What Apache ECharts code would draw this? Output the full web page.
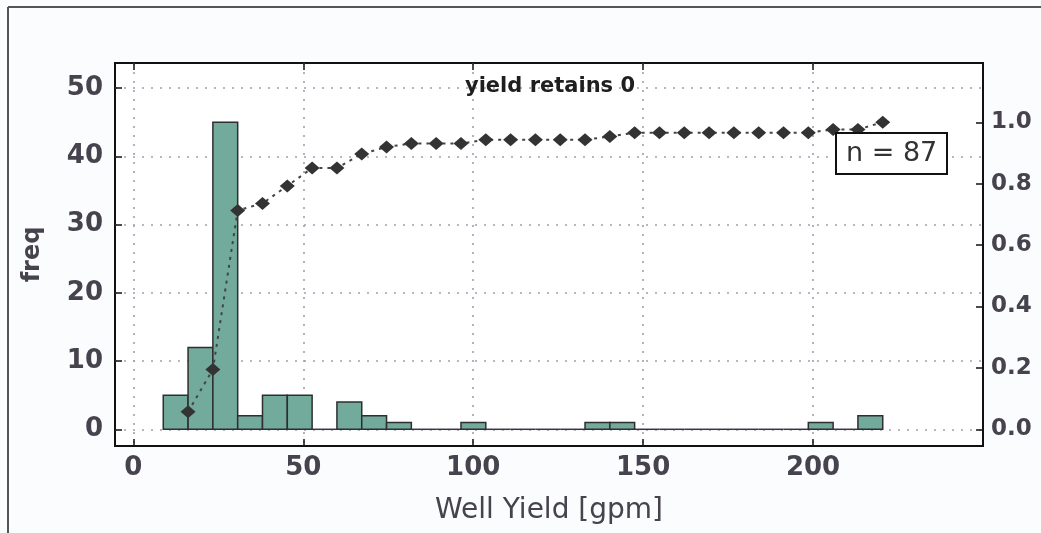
<!DOCTYPE html>
<html><head><meta charset="utf-8">
<script src="https://cdn.jsdelivr.net/npm/echarts@6/dist/echarts.min.js"></script>
<style>html,body{margin:0;padding:0;background:#fbfcfd}#c{width:1041px;height:533px}</style>
</head><body><div id="c"></div>
<script>
// ---- data ----
const binEdges = [8.8, 16.1, 23.4, 30.7, 38.0, 45.3, 52.6, 59.9, 67.2, 74.5, 81.8, 89.1, 96.4, 103.7, 111.0,
  118.3, 125.6, 132.9, 140.2, 147.5, 154.8, 162.1, 169.4, 176.7, 184.0, 191.3, 198.6, 205.9, 213.2, 220.5];
const counts = [5, 12, 45, 2, 5, 5, 0, 4, 2, 1, 0, 0, 1, 0, 0, 0, 0, 1, 1, 0, 0, 0, 0, 0, 0, 0, 1, 0, 2];
const cumFraction = [0.057, 0.195, 0.713, 0.736, 0.793, 0.851, 0.851, 0.897, 0.920, 0.931, 0.931, 0.931, 0.943,
  0.943, 0.943, 0.943, 0.943, 0.954, 0.966, 0.966, 0.966, 0.966, 0.966, 0.966, 0.966, 0.966, 0.977, 0.977, 1.0];
const xTicks = [0, 50, 100, 150, 200];
const freqTicks = [0, 10, 20, 30, 40, 50];
const fracTicks = [0, 0.2, 0.4, 0.6, 0.8, 1.0];
const titleText = 'yield retains 0';
const nText = 'n = 87';
const xName = 'Well Yield [gpm]';
const yName = 'freq';

// ---- build ----
const barData = counts.map((c, i) => [binEdges[i], binEdges[i + 1], c]);
const cumData = cumFraction.map((v, i) => [binEdges[i + 1], v]);

const txt = '#46424e';
const font = 'DejaVu Sans';
const gridLine = { show: true, lineStyle: { type: [2, 7], color: '#a49db0', width: 1.6 } };
const tickStyle = { color: '#111', width: 1.5 };

const chart = echarts.init(document.getElementById('c'));
chart.setOption({
  backgroundColor: '#fbfcfd',
  animation: false,
  textStyle: { fontFamily: font },
  title: [
    { text: titleText, left: 545, textAlign: 'center', top: 71,
      textStyle: { fontFamily: font, fontSize: 21, fontWeight: 'bold', color: '#1e1e1e' } },
    { text: nText, left: 836, top: 133, padding: [7, 10, 7, 10],
      borderWidth: 2, borderColor: '#111', backgroundColor: '#fff',
      textStyle: { fontFamily: font, fontSize: 27, fontWeight: 'normal', color: '#333' } }
  ],
  graphic: [
    { type: 'line', shape: { x1: 8, y1: 7, x2: 1041, y2: 7 }, style: { stroke: '#555', lineWidth: 2 } },
    { type: 'line', shape: { x1: 8, y1: 7, x2: 8, y2: 533 }, style: { stroke: '#555', lineWidth: 2 } }
  ],
  grid: { left: 115, right: 58, top: 63, bottom: 87, show: true, borderColor: '#111', borderWidth: 2, backgroundColor: '#fff' },
  xAxis: [
    { type: 'value', min: -5.4, max: 250, position: 'bottom',
      name: xName, nameLocation: 'middle', nameGap: 51,
      nameTextStyle: { fontFamily: font, fontSize: 28, color: txt },
      axisLine: { show: false, onZero: false },
      axisTick: { inside: true, length: 7, customValues: xTicks, lineStyle: tickStyle },
      axisLabel: { customValues: xTicks, fontSize: 26, color: txt, margin: 9, fontFamily: font, fontWeight: 'bold' },
      splitLine: gridLine },
    { type: 'value', min: -5.4, max: 250, position: 'top',
      axisLine: { show: false, onZero: false },
      axisTick: { inside: true, length: 7, customValues: xTicks, lineStyle: tickStyle },
      axisLabel: { show: false }, splitLine: { show: false } }
  ],
  yAxis: [
    { type: 'value', min: -2.45, max: 53.7, position: 'left',
      name: yName, nameLocation: 'middle', nameGap: 70, nameRotate: 90,
      nameTextStyle: { fontFamily: font, fontSize: 24, color: txt, fontWeight: 'bold' },
      axisLine: { show: false, onZero: false },
      axisTick: { inside: true, length: 7, customValues: freqTicks, lineStyle: tickStyle },
      axisLabel: { customValues: freqTicks, fontSize: 26, color: txt, margin: 12, fontFamily: font, fontWeight: 'bold' },
      splitLine: gridLine },
    { type: 'value', min: -0.0544, max: 1.1933, position: 'right',
      axisLine: { show: false, onZero: false },
      axisTick: { inside: true, length: 7, customValues: fracTicks, lineStyle: tickStyle },
      axisLabel: { customValues: fracTicks, fontSize: 23, color: txt, margin: 8, fontFamily: font, fontWeight: 'bold',
        formatter: v => v.toFixed(1) },
      splitLine: { show: false } }
  ],
  series: [
    { type: 'custom', xAxisIndex: 0, yAxisIndex: 0, data: barData, encode: { x: [0, 1], y: 2 }, z: 2,
      renderItem: (params, api) => {
        const x0 = api.value(0), x1 = api.value(1), h = api.value(2);
        const p0 = api.coord([x0, 0]);
        const p1 = api.coord([x1, h]);
        if (h === 0) {
          return { type: 'line', shape: { x1: p0[0], y1: p0[1], x2: p1[0], y2: p0[1] },
            style: { stroke: '#3a3340', lineWidth: 1.5 } };
        }
        return { type: 'rect',
          shape: { x: p0[0], y: p1[1], width: p1[0] - p0[0], height: p0[1] - p1[1] },
          style: { fill: '#72ab9c', stroke: '#2e2e2e', lineWidth: 1.5 } };
      } },
    { type: 'line', xAxisIndex: 0, yAxisIndex: 1, data: cumData, z: 3,
      symbol: 'diamond', symbolSize: [15, 13], showSymbol: true,
      itemStyle: { color: '#333' },
      lineStyle: { color: '#444', width: 2, type: [3, 5] } }
  ]
});
</script>
</body></html>
